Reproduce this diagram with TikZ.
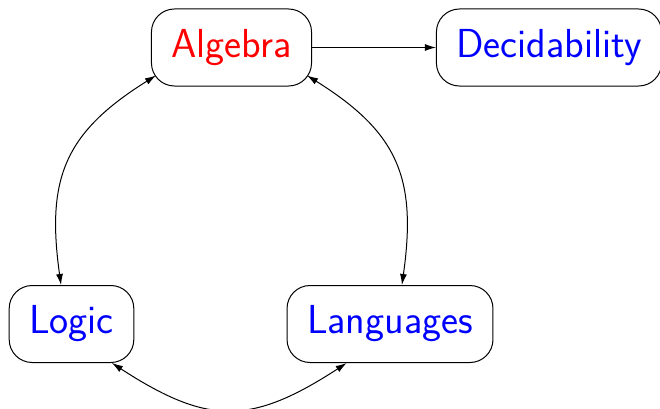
\documentclass[tikz,border=0pt]{standalone}
\usepackage{fontspec}
\usetikzlibrary{arrows.meta}

\tikzset{
  topic/.style={draw, rounded corners=23pt, minimum height=77pt, inner xsep=20pt,
    font=\sffamily\fontsize{40.5}{48}\selectfont},
}

\begin{document}
\begin{tikzpicture}[x=1pt, y=1pt, line width=1pt, >={Latex[length=11pt,width=7pt]}]
\useasboundingbox (0,0) rectangle (660,408);
% the four topics
\node[topic, text=red] (algebra) at (231.5,360.5) {Algebra};
\node[topic, text=blue] (decid) at (549,360.5) {Decidability};
\node[topic, text=blue] (logic) at (71.5,84) {Logic};
\node[topic, text=blue] (lang) at (390,84) {Languages};
% links between them
\draw[->] (algebra) -- (decid);
\draw[<->] ([shift={(5pt,11pt)}]algebra.south west) to[out=212, in=98, looseness=1.2] (logic.105);
\draw[<->] ([shift={(-5pt,11pt)}]algebra.south east) to[out=-32, in=82, looseness=1.2] (lang.73);
\draw[<->] (logic.-44) to[out=-33, in=213, looseness=1.25] (lang.222);
\end{tikzpicture}
\end{document}
